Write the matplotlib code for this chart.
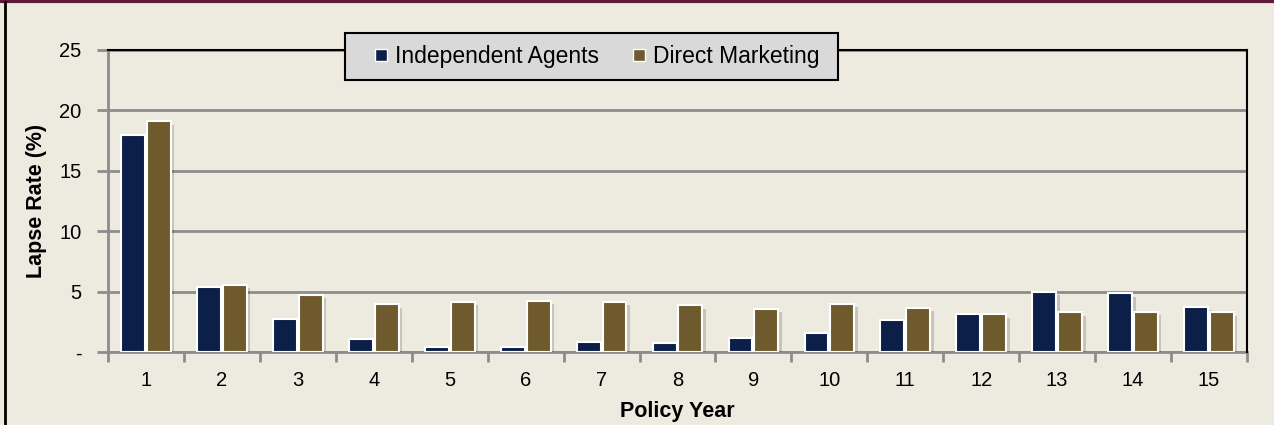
import numpy as np
import matplotlib.pyplot as plt
import matplotlib.patheffects as pe
from matplotlib.lines import Line2D
from matplotlib.patches import Rectangle

plt.rcParams['font.family'] = ['Liberation Sans', 'DejaVu Sans']

# data
policy_year = list(range(1, 16))
independent_agents = [18.0, 5.35, 2.75, 1.05, 0.45, 0.4, 0.82, 0.72, 1.12, 1.57,
                      2.65, 3.15, 4.97, 4.88, 3.75]
direct_marketing = [19.1, 5.55, 4.75, 3.95, 4.15, 4.25, 4.17, 3.88, 3.57, 3.98,
                    3.65, 3.13, 3.27, 3.33, 3.27]
y_ticks = [0, 5, 10, 15, 20, 25]
y_tick_labels = ['-', '5', '10', '15', '20', '25']

bg = '#EDEAE0'
navy = '#0C1F48'
brown = '#6E5A2C'

fig = plt.figure(figsize=(12.74, 4.25), dpi=100, facecolor=bg)
ax = fig.add_axes([0.0848, 0.1718, 0.8940, 0.7106])
ax.set_facecolor(bg)

x = np.array(policy_year)
shadow = [pe.SimplePatchShadow(offset=(2.5, -2.5), alpha=0.18), pe.Normal()]
b1 = ax.bar(x - 0.17, independent_agents, width=0.315, color=navy,
            edgecolor='white', linewidth=1.5, zorder=3)
b2 = ax.bar(x + 0.17, direct_marketing, width=0.315, color=brown,
            edgecolor='white', linewidth=1.5, zorder=3)
for bar in list(b1) + list(b2):
    bar.set_path_effects(shadow)

ax.set_xlim(0.5, 15.5)
ax.set_ylim(0, 25)

# grid + spines
ax.set_yticks(y_ticks)
ax.set_yticklabels(y_tick_labels)
ax.yaxis.grid(True, color='#8C8C8C', linewidth=2, zorder=0)
ax.set_axisbelow(True)
for s in ['left', 'bottom']:
    ax.spines[s].set_color('#8C8C8C')
    ax.spines[s].set_linewidth(2)
for s in ['top', 'right']:
    ax.spines[s].set_color('black')
    ax.spines[s].set_linewidth(1.5)
    ax.spines[s].set_zorder(4)

ax.set_xticks(x)
ax.set_xticklabels([str(p) for p in policy_year])
ax.set_xticks(np.arange(0.5, 16, 1), minor=True)
ax.tick_params(axis='x', which='major', length=0, labelsize=14.5, pad=14)
ax.tick_params(axis='x', which='minor', length=7, width=2, color='#8C8C8C',
               direction='out')
ax.tick_params(axis='y', length=8, width=2, color='#8C8C8C', labelsize=14.5, pad=11)

ax.set_xlabel('Policy Year', fontsize=15.5, fontweight='bold')
ax.set_ylabel('Lapse Rate (%)', fontsize=15.5, fontweight='bold')
ax.xaxis.set_label_coords(0.5, -0.163)
ax.yaxis.set_label_coords(-0.054, 0.5)

# legend box
box = Rectangle((0.2081, 0.9007), 0.4328, 0.1556, transform=ax.transAxes,
                facecolor='#D9D9D9', edgecolor='black', linewidth=1.5,
                clip_on=False, zorder=9)
ax.add_patch(box)
handles = [Line2D([], [], marker='s', linestyle='none', markersize=8.5,
                  markerfacecolor=c, markeredgecolor='white', markeredgewidth=1)
           for c in (navy, brown)]
leg = ax.legend(handles, ['Independent Agents', 'Direct Marketing'], loc='center',
                bbox_to_anchor=(0.4285, 0.978), ncol=2, fontsize=16.5, frameon=False,
                handlelength=0.7, handletextpad=0.25, columnspacing=1.4,
                borderpad=0, borderaxespad=0)
leg.set_zorder(10)

# figure border lines
fig.add_artist(Line2D([0, 1], [0.997, 0.997], color='#5E1A3A', linewidth=3,
                      transform=fig.transFigure))
fig.add_artist(Line2D([0.0043, 0.0043], [0, 0.995], color='black', linewidth=2,
                      transform=fig.transFigure))

fig.savefig('out.png', dpi=100, facecolor=bg)
